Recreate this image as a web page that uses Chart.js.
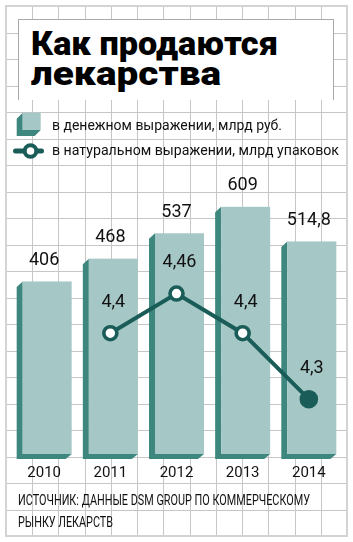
<!DOCTYPE html>
<html><head><meta charset="utf-8">
<script src="https://cdn.jsdelivr.net/npm/chart.js@4"></script>
<style>
html,body{margin:0;padding:0;background:#fff;}
#wrap{position:relative;width:353px;height:542px;overflow:hidden;font-family:Roboto,sans-serif;color:#111;}
#c{position:absolute;left:0;top:0;}
.box{position:absolute;left:18px;top:19px;width:316px;height:81px;background:#fff;border:1px solid #a9a9a9;border-bottom:none;box-sizing:border-box;}
.title{position:absolute;left:31px;top:28px;font-weight:900;font-size:34px;line-height:30px;color:#000;white-space:nowrap;}
.t{display:block;transform-origin:0 0;width:max-content;}
.leg{position:absolute;left:52px;font-size:15.5px;line-height:20px;white-space:nowrap;transform-origin:0 0;}
.src{position:absolute;left:18px;font-size:14px;line-height:20px;white-space:nowrap;transform-origin:0 0;}
</style></head>
<body>
<div id="wrap">
<canvas id="c" width="353" height="542"></canvas>
<div class="box"></div>
<div class="title"><span class="t" data-w="247">Как продаются</span><span class="t" data-w="190">лекарства</span></div>
<div class="leg" style="top:115px" data-w="230">в денежном выражении, млрд руб.</div>
<div class="leg" style="top:139.5px" data-w="287">в натуральном выражении, млрд упаковок</div>
<div class="src" style="top:490px" data-w="292">ИСТОЧНИК: ДАННЫЕ DSM GROUP ПО КОММЕРЧЕСКОМУ</div>
<div class="src" style="top:512px" data-w="95">РЫНКУ ЛЕКАРСТВ</div>
</div>
<script>
const categories = ['2010', '2011', '2012', '2013', '2014'];
const moneyValues = [406, 468, 537, 609, 514.8];
const packValues = [null, 4.4, 4.46, 4.4, 4.3];

const LIGHT = '#a5c7c5', DARK = '#3d877f', LINE = '#1a5c58';
const fmt = v => String(v).replace('.', ',');

// fit text widths
document.querySelectorAll('[data-w]').forEach(el => {
  const w = el.getBoundingClientRect().width;
  const t = parseFloat(el.dataset.w);
  if (w > 0) el.style.transform = 'scaleX(' + (t / w) + ')';
});

const gridPlugin = {
  id: 'paper',
  beforeDraw(chart) {
    const ctx = chart.ctx;
    ctx.save();
    ctx.fillStyle = '#fff';
    ctx.fillRect(0, 0, 353, 542);
    ctx.strokeStyle = '#c6c6c6';
    ctx.lineWidth = 1;
    const x0 = 6, y0 = 6, W = 341, H = 530;
    ctx.beginPath();
    for (let i = 1; i < 13; i++) {
      const x = Math.round(x0 + i * W / 13) + 0.5;
      ctx.moveTo(x, y0); ctx.lineTo(x, y0 + H);
    }
    for (let j = 1; j < 20; j++) {
      const y = Math.round(y0 + j * H / 20) + 0.5;
      ctx.moveTo(x0, y); ctx.lineTo(x0 + W, y);
    }
    ctx.stroke();
    ctx.strokeStyle = '#d3d3d3';
    ctx.lineWidth = 2;
    ctx.strokeRect(x0, y0, W, H);
    ctx.restore();
  },
  afterDatasetDraw(chart, args) {
    if (args.index !== 0) return;
    const ctx = chart.ctx;
    ctx.save();
    args.meta.data.forEach(el => {
      const cx = el.x, top = el.y, bot = el.base;
      const L = cx - 27.5, FL = L + 6, R = cx + 27.5;
      ctx.fillStyle = DARK;
      ctx.beginPath();
      ctx.moveTo(FL, top); ctx.lineTo(L, top + 5.5); ctx.lineTo(L, bot + 5);
      ctx.lineTo(R - 6, bot + 5); ctx.lineTo(R, bot); ctx.lineTo(FL, bot);
      ctx.closePath(); ctx.fill();
      ctx.fillStyle = LIGHT;
      ctx.fillRect(FL, top, R - FL, bot - top);
    });
    ctx.restore();
  },
  afterDatasetsDraw(chart) {
    const ctx = chart.ctx;
    ctx.save();
    ctx.font = '18px Roboto';
    ctx.fillStyle = '#111';
    ctx.textAlign = 'center';
    ctx.textBaseline = 'middle';
    chart.getDatasetMeta(0).data.forEach((el, i) => {
      ctx.fillText(fmt(moneyValues[i]), el.x, el.y - 21);
    });
    chart.getDatasetMeta(1).data.forEach((el, i) => {
      if (packValues[i] == null) return;
      ctx.fillText(fmt(packValues[i]), el.x + 3, el.y - 31);
    });
    // legend icons
    ctx.fillStyle = DARK;
    ctx.beginPath();
    ctx.moveTo(22.7, 112.7); ctx.lineTo(16.7, 118.7); ctx.lineTo(16.7, 136);
    ctx.lineTo(34.7, 136); ctx.lineTo(40.7, 130); ctx.lineTo(22.7, 130);
    ctx.closePath(); ctx.fill();
    ctx.fillStyle = LIGHT;
    ctx.fillRect(22.7, 112.7, 18, 17.3);
    ctx.strokeStyle = LINE;
    ctx.lineCap = 'round';
    ctx.lineWidth = 5;
    ctx.beginPath(); ctx.moveTo(15.5, 151); ctx.lineTo(41.5, 151); ctx.stroke();
    ctx.fillStyle = '#fff';
    ctx.lineWidth = 4;
    ctx.beginPath(); ctx.arc(30.5, 151, 5.8, 0, Math.PI * 2); ctx.fill(); ctx.stroke();
    ctx.restore();
  }
};

new Chart(document.getElementById('c'), {
  type: 'bar',
  data: {
    labels: categories,
    datasets: [
      {
        type: 'bar', data: moneyValues, yAxisID: 'y', base: -63.3,
        backgroundColor: 'rgba(0,0,0,0)', borderWidth: 0,
        barThickness: 55, order: 2
      },
      {
        type: 'line', data: packValues, yAxisID: 'y2',
        borderColor: LINE, borderWidth: 4, tension: 0, spanGaps: false,
        pointRadius: [0, 6.5, 6.5, 6.5, 7.5],
        pointBorderWidth: 3.6,
        pointBorderColor: LINE,
        pointBackgroundColor: ['#fff', '#fff', '#fff', '#fff', LINE],
        order: 1
      }
    ]
  },
  options: {
    responsive: false,
    animation: false,
    devicePixelRatio: 1,
    layout: { padding: { left: 6.8, right: 9.2, top: 180, bottom: 50 } },
    plugins: { legend: { display: false }, tooltip: { enabled: false } },
    scales: {
      x: {
        offset: true,
        grid: { display: false, drawTicks: false },
        border: { display: false },
        ticks: { font: { family: 'Roboto', size: 15 }, color: '#111', padding: 10 }
      },
      y: { display: false, min: -63.3, max: 681.9 },
      y2: { display: false, min: 4.217, max: 4.632 }
    }
  },
  plugins: [gridPlugin]
});
</script>
</body></html>
